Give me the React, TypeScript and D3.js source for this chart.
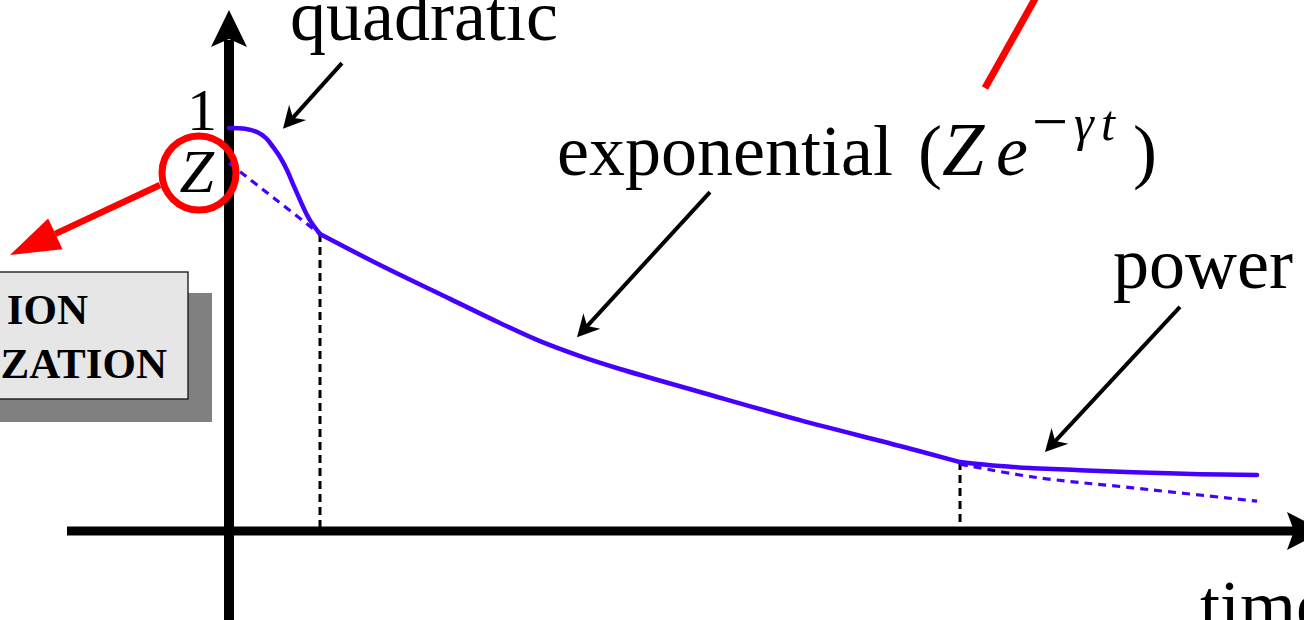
import React from "react";
import * as d3 from "d3";

const W = 1304;
const H = 620;

// Decay of the survival amplitude: time (arbitrary units) vs. normalised value.
// Short-time quadratic regime.
const quadraticTime = [0, 0.156, 0.273, 0.361, 0.429, 0.497, 0.565, 0.624, 0.682, 0.741, 0.799, 0.887];
const quadraticValue = [1.0, 0.998, 0.99, 0.975, 0.953, 0.928, 0.896, 0.861, 0.827, 0.794, 0.767, 0.737];

// Intermediate exponential regime.
const exponentialTime = [0.887, 1.472, 2.154, 2.641, 3.031, 3.421, 3.811, 4.591, 5.565, 6.54, 7.125];
const exponentialValue = [0.737, 0.66, 0.576, 0.516, 0.471, 0.434, 0.402, 0.345, 0.275, 0.211, 0.171];

// Long-time power-law tail.
const powerTime = [7.125, 7.515, 7.836, 8.294, 8.811, 9.464, 10.02];
const powerValue = [0.171, 0.161, 0.156, 0.151, 0.146, 0.141, 0.139];

// Pure exponential Z·e^(−γt), continued before and after its regime.
const extrapEarlyTime = [0, 0.448, 0.887];
const extrapEarlyValue = [0.913, 0.824, 0.737];
const extrapLateTime = [7.125, 7.836, 8.811, 10.02];
const extrapLateValue = [0.166, 0.134, 0.107, 0.074];

// Regime boundaries on the time axis.
const crossoverTime = [0.887, 7.125];
const crossoverValue = [0.737, 0.171];

// Value-axis labels.
const yTickValues = [1, 0.913];
const yTickLabels = ["1", "Z"];

// Annotation arrows (start → tip) in data units.
const arrowStartT = [1.101, 4.688, 9.269];
const arrowStartV = [1.161, 0.841, 0.556];
const arrowTipT = [0.526, 3.392, 7.953];
const arrowTipV = [0.998, 0.481, 0.196];

const BLUE = "#4600ff";
const RED = "#ff0000";
const SERIF = "'Liberation Serif', 'Times New Roman', serif";

const xScale = d3.scaleLinear().domain([0, 10]).range([229, 1255]);
const yScale = d3.scaleLinear().domain([0, 1]).range([531, 128]);

const zip = (t: number[], v: number[]) => t.map((d, i) => [d, v[i]] as [number, number]);

const smooth = d3
  .line<[number, number]>()
  .x((d) => xScale(d[0]))
  .y((d) => yScale(d[1]))
  .curve(d3.curveCatmullRom.alpha(0.5));

// Filled arrowhead (length L, half-width Wd) whose back is notched inwards by `inset`;
// also returns the point where the shaft should stop.
function arrowHead(x0: number, y0: number, x1: number, y1: number, L: number, Wd: number, inset: number) {
  const dx = x1 - x0;
  const dy = y1 - y0;
  const len = Math.hypot(dx, dy);
  const ux = dx / len;
  const uy = dy / len;
  const nx = -uy;
  const ny = ux;
  const bx = x1 - ux * L;
  const by = y1 - uy * L;
  const mx = x1 - ux * (L - inset);
  const my = y1 - uy * (L - inset);
  const p = d3.path();
  p.moveTo(x1, y1);
  p.lineTo(bx + nx * Wd, by + ny * Wd);
  p.lineTo(mx, my);
  p.lineTo(bx - nx * Wd, by - ny * Wd);
  p.closePath();
  return { d: p.toString(), sx: mx, sy: my };
}

export default function App() {
  const x0 = xScale(0);
  const y0 = yScale(0);

  const yAxisTop = 10;
  const xAxisRight = 1324;
  const yHead = arrowHead(x0, H + 20, x0, yAxisTop, 37, 18, 8);
  const xHead = arrowHead(67, y0, xAxisRight, y0, 37, 19, 7);

  const arrows = arrowStartT.map((t, i) => {
    const sx = xScale(t);
    const sy = yScale(arrowStartV[i]);
    const tx = xScale(arrowTipT[i]);
    const ty = yScale(arrowTipV[i]);
    const h = arrowHead(sx, sy, tx, ty, 22, 11.5, 7);
    return { sx, sy, ex: h.sx, ey: h.sy, d: h.d };
  });

  // Red call-out arrow from the circled Z towards the box.
  const circleCx = 199;
  const circleCy = 173;
  const redHead = arrowHead(160, 185, 10, 255, 50, 17, 0);

  return (
    <svg
      width={W}
      height={H}
      viewBox={`0 0 ${W} ${H}`}
      style={{ position: "absolute", left: 0, top: 0, background: "#fff" }}
    >
      <rect x={0} y={0} width={W} height={H} fill="#fff" />

      {/* boxed caption with drop shadow */}
      <rect x={-30} y={293} width={242} height={129} fill="#808080" />
      <rect x={-30} y={272} width={218} height={127} fill="#e6e6e6" stroke="#111" strokeWidth={1.3} />
      <text x={88} y={324} textAnchor="end" fontFamily={SERIF} fontWeight="bold" fontSize={43} fill="#000">
        ION
      </text>
      <text x={167} y={378} textAnchor="end" fontFamily={SERIF} fontWeight="bold" fontSize={43} fill="#000">
        ZATION
      </text>

      {/* axes */}
      <line x1={x0} y1={H + 10} x2={yHead.sx} y2={yHead.sy + 1} stroke="#000" strokeWidth={10} />
      <path d={yHead.d} fill="#000" />
      <line x1={67} y1={y0} x2={xHead.sx + 1} y2={y0} stroke="#000" strokeWidth={9} />
      <path d={xHead.d} fill="#000" />

      {/* regime boundaries */}
      {crossoverTime.map((t, i) => (
        <line
          key={`cb${i}`}
          x1={xScale(t)}
          x2={xScale(t)}
          y1={yScale(crossoverValue[i])}
          y2={y0 - 4}
          stroke="#000"
          strokeWidth={3}
          strokeDasharray="8,5"
        />
      ))}

      {/* exponential extrapolation */}
      <path
        d={smooth(zip(extrapEarlyTime, extrapEarlyValue)) || ""}
        fill="none"
        stroke={BLUE}
        strokeWidth={3.2}
        strokeDasharray="8,6"
      />
      <path
        d={smooth(zip(extrapLateTime, extrapLateValue)) || ""}
        fill="none"
        stroke={BLUE}
        strokeWidth={3.2}
        strokeDasharray="8,6"
      />

      {/* decay curve */}
      {[
        zip(quadraticTime, quadraticValue),
        zip(exponentialTime, exponentialValue),
        zip(powerTime, powerValue),
      ].map((seg, i) => (
        <path
          key={`seg${i}`}
          d={smooth(seg) || ""}
          fill="none"
          stroke={BLUE}
          strokeWidth={4.5}
          strokeLinecap="round"
          strokeLinejoin="round"
        />
      ))}

      {/* value-axis labels */}
      <text x={217} y={yScale(yTickValues[0]) + 2} textAnchor="end" fontFamily={SERIF} fontSize={60} fill="#000">
        {yTickLabels[0]}
      </text>
      <text
        x={214}
        y={yScale(yTickValues[1]) + 29}
        textAnchor="end"
        fontFamily={SERIF}
        fontStyle="italic"
        fontSize={62}
        fill="#000"
      >
        {yTickLabels[1]}
      </text>

      {/* red call-outs */}
      <circle cx={circleCx} cy={circleCy} r={37} fill="none" stroke={RED} strokeWidth={7} />
      <line x1={160} y1={185} x2={redHead.sx} y2={redHead.sy} stroke={RED} strokeWidth={6.5} />
      <path d={redHead.d} fill={RED} />
      <line x1={985} y1={88} x2={1040} y2={-10} stroke={RED} strokeWidth={7} />

      {/* annotation arrows */}
      {arrows.map((a, i) => (
        <g key={`ar${i}`}>
          <line x1={a.sx} y1={a.sy} x2={a.ex} y2={a.ey} stroke="#000" strokeWidth={4} />
          <path d={a.d} fill="#000" />
        </g>
      ))}

      {/* regime labels */}
      <text x={290} y={40} fontFamily={SERIF} fontSize={72} fill="#000">
        quadratic
      </text>
      <text x={557} y={175} fontFamily={SERIF} fontSize={72} fill="#000">
        exponential
      </text>
      <g fontFamily={SERIF} fill="#000">
        <text x={918} y={175} fontSize={72}>(</text>
        <text x={942} y={175} fontSize={76} fontStyle="italic">Z</text>
        <text x={996} y={175} fontSize={72} fontStyle="italic">e</text>
        <text x={1032} y={143} fontSize={64}>−</text>
        <text x={1074} y={140} fontSize={50} fontStyle="italic">γ</text>
        <text x={1101} y={140} fontSize={50} fontStyle="italic">t</text>
        <text x={1133} y={175} fontSize={72}>)</text>
      </g>
      <text x={1113} y={288} fontFamily={SERIF} fontSize={72} fill="#000">
        power
      </text>
      <text x={1200} y={630} fontFamily={SERIF} fontSize={72} fill="#000">
        time
      </text>
    </svg>
  );
}
